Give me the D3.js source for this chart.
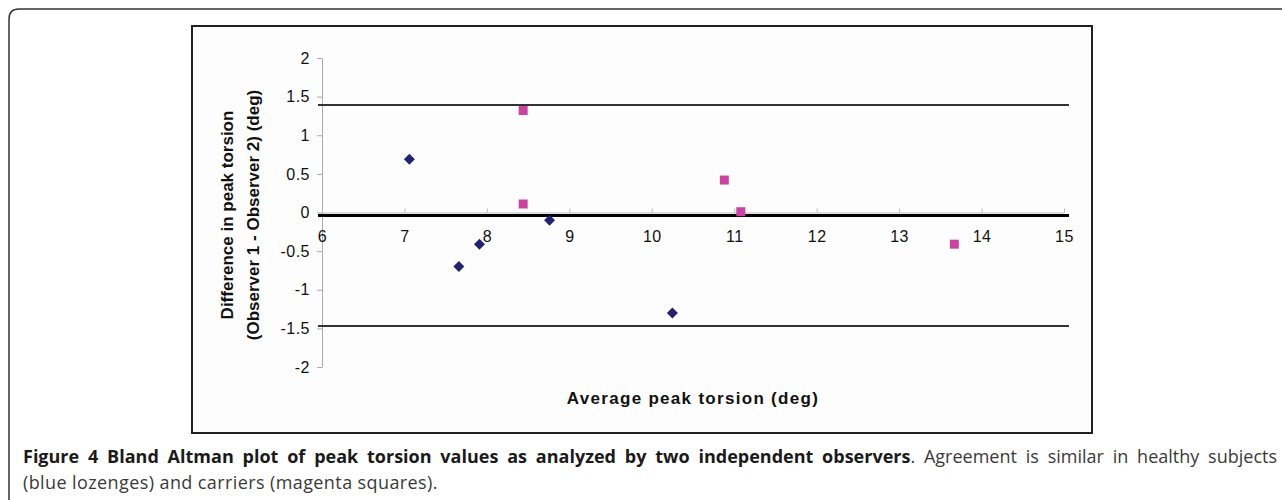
<!DOCTYPE html>
<html>
<head>
<meta charset="utf-8">
<script src="https://cdn.jsdelivr.net/npm/d3@7"></script>
<style>
  html, body { margin: 0; padding: 0; background: #fff; }
</style>
</head>
<body>
<svg id="chart" width="1282" height="500"></svg>
<script>
// ---- data ----
const healthyX = [7.06, 7.66, 7.91, 8.76, 10.25];
const healthyY = [0.69, -0.70, -0.41, -0.10, -1.30];
const carrierX = [8.44, 8.44, 10.88, 11.08, 13.67];
const carrierY = [1.32, 0.11, 0.42, 0.01, -0.41];
const meanDiff = -0.04;
const upperLoA = 1.39;
const lowerLoA = -1.47;
const xTicks = [6, 7, 8, 9, 10, 11, 12, 13, 14, 15];
const yTicks = [-2, -1.5, -1, -0.5, 0, 0.5, 1, 1.5, 2];
const xTitle = "Average peak torsion (deg)";
const yTitle1 = "Difference in peak torsion";
const yTitle2 = "(Observer 1 - Observer 2) (deg)";
const capBold = "Figure 4 Bland Altman plot of peak torsion values as analyzed by two independent observers";
const capRest1 = "Agreement is similar in healthy subjects";
const capLine2 = "(blue lozenges) and carriers (magenta squares).";

const svg = d3.select("#chart");

// outer rounded panel
svg.append("path")
  .attr("d", "M9,1300 L9,19 Q9,9 19,9 L1400,9")
  .attr("fill", "none").attr("stroke", "#333").attr("stroke-width", 1.5);

// chart frame
svg.append("rect")
  .attr("x", 192).attr("y", 26).attr("width", 900).attr("height", 407)
  .attr("fill", "#fdfdfd").attr("stroke", "#222").attr("stroke-width", 2);

const x = d3.scaleLinear().domain([6, 15]).range([322, 1064]);
const y = d3.scaleLinear().domain([-2, 2]).range([367, 58]);

const fontAxis = "'Liberation Sans', Arial, sans-serif";

// y axis
const yAxis = svg.append("g")
  .attr("transform", `translate(${x(6)},0)`)
  .call(d3.axisLeft(y).tickValues(yTicks).tickSize(5).tickSizeOuter(0).tickPadding(7)
        .tickFormat(d => String(d)));
yAxis.select(".domain").attr("stroke", "#aaa");
yAxis.selectAll(".tick line").attr("stroke", "#aaa");
yAxis.selectAll("text").attr("font-family", fontAxis).attr("font-size", 16)
  .attr("fill", "#111").attr("letter-spacing", 0.5);

// x axis at y=0
const xAxis = svg.append("g")
  .attr("transform", `translate(0,${y(0)})`)
  .call(d3.axisBottom(x).tickValues(xTicks).tickSize(-4).tickSizeOuter(0).tickPadding(18)
        .tickFormat(d => String(d)));
xAxis.select(".domain").attr("stroke", "#bbb");
xAxis.selectAll(".tick line").attr("stroke", "#bbb");
xAxis.selectAll("text").attr("font-family", fontAxis).attr("font-size", 16)
  .attr("fill", "#111").attr("letter-spacing", 0.5);

// reference lines (mean & limits of agreement)
const xs = x.domain();
const lineX0 = x(xs[0]) - 4, lineX1 = x(xs[1]) + 5;
[[upperLoA, 2, "#333"], [lowerLoA, 2, "#333"], [meanDiff, 3, "#000"]].forEach(([v, w, c]) => {
  svg.append("line")
    .attr("x1", lineX0).attr("x2", lineX1)
    .attr("y1", y(v)).attr("y2", y(v))
    .attr("stroke", c).attr("stroke-width", w);
});

// points
const healthy = healthyX.map((d, i) => ({ x: d, y: healthyY[i] }));
const carriers = carrierX.map((d, i) => ({ x: d, y: carrierY[i] }));

svg.append("g").selectAll("path").data(healthy).join("path")
  .attr("d", d3.symbol(d3.symbolSquare, 60)())
  .attr("transform", d => `translate(${x(d.x)},${y(d.y)}) rotate(45)`)
  .attr("fill", "#22226e");

svg.append("g").selectAll("path").data(carriers).join("path")
  .attr("d", d3.symbol(d3.symbolSquare, 81)())
  .attr("transform", d => `translate(${x(d.x)},${y(d.y)})`)
  .attr("fill", "#c9449f");

// axis titles
svg.append("text")
  .attr("x", 693).attr("y", 404)
  .attr("text-anchor", "middle")
  .attr("font-family", fontAxis).attr("font-weight", "bold").attr("font-size", 17)
  .attr("letter-spacing", 1.3)
  .attr("fill", "#111")
  .text(xTitle);

const yt = svg.append("text")
  .attr("transform", "translate(0,215) rotate(-90)")
  .attr("text-anchor", "middle")
  .attr("font-family", fontAxis).attr("font-weight", "bold").attr("font-size", 17)
  .attr("fill", "#111");
yt.append("tspan").attr("x", 0).attr("y", 233).text(yTitle1);
yt.append("tspan").attr("x", 0).attr("y", 259).text(yTitle2);

// caption (line 1 justified between 23 and 1277)
const capFont = "'Open Sans', 'Noto Sans', sans-serif";
const cap = svg.append("g").attr("font-family", capFont).attr("font-size", 18);
const boldWords = capBold.split(" ");
const units = boldWords.map((w, i) => ({ parts: [[w, true]].concat(i === boldWords.length - 1 ? [[".", false]] : []) }))
  .concat(capRest1.split(" ").map(w => ({ parts: [[w, false]] })));
const left = 23, right = 1277;
units.forEach(u => {
  u.el = cap.append("text").attr("y", 463);
  u.parts.forEach(([t, b]) => {
    u.el.append("tspan").text(t)
      .attr("font-weight", b ? "bold" : "normal")
      .attr("fill", b ? "#1a1a1a" : "#3a3a3a");
  });
  u.w = u.el.node().getComputedTextLength();
});
const total = d3.sum(units, u => u.w);
const gap = Math.max(3, (right - left - total) / (units.length - 1));
let cx = left;
units.forEach(u => { u.el.attr("x", cx); cx += u.w + gap; });

cap.append("text").attr("x", left).attr("y", 489).attr("fill", "#3a3a3a")
  .attr("letter-spacing", 0.4)
  .text(capLine2);
</script>
</body>
</html>
